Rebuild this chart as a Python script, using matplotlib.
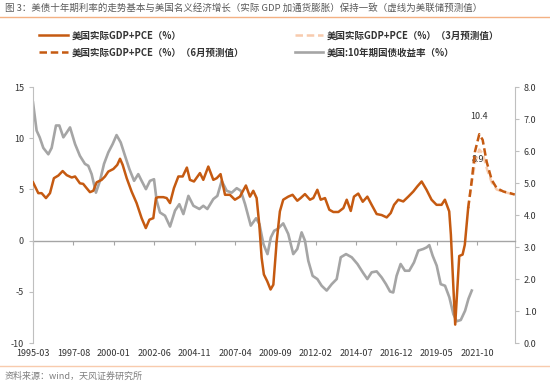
import numpy as np
import matplotlib

matplotlib.use("Agg")
import matplotlib.pyplot as plt
from matplotlib.lines import Line2D

plt.rcParams["font.family"] = ["Noto Sans CJK SC", "DejaVu Sans"]
plt.rcParams["axes.unicode_minus"] = False

# x values are months counted from 1995-03
gdp_month = [0, 3.8, 6.2, 9.3, 12.2, 15, 18.2, 21.3, 24.2, 27.8, 30.2, 33.7, 36, 38.5,
             40.9, 43.3, 45.7, 49.3, 51.7, 54.1, 57.7, 60.5, 62.5, 64.4, 67.3, 70.8,
             74.4, 78, 81, 83.6, 86.4, 88.3, 90, 93.6, 96, 98.4, 101.2, 104.4, 107.5,
             110.5, 112.7, 115.6, 119.9, 122.3, 125.9, 129.5, 131.9, 134.7, 137.9,
             141.4, 145, 148.6, 152.9, 155.8, 158.2, 160.6, 162.5, 164.2, 165.8, 168.2,
             170.6, 172.6, 175, 177.3, 179.7, 183.3, 186.4, 189.8, 192.2, 195.3, 198.9,
             201.3, 204.2, 206.6, 209.7, 212.8, 215.7, 219.3, 222.9, 225.3, 228.2,
             230.5, 233.6, 236.8, 240.1, 243.2, 246.8, 250.4, 254, 256.9, 259.3, 262.3,
             265.9, 269.5, 273.1, 276, 279.1, 282.6, 286.2, 289.8, 293.4, 295.8, 298.9,
             300.1, 301.8, 303.2, 304.9, 306.1, 308.5, 310.1, 312.5]
gdp = [5.7, 4.64, 4.64, 4.16, 4.64, 6.1, 6.36, 6.8, 6.4, 6.17, 6.27, 5.6, 5.55, 5.13,
       4.74, 4.87, 5.7, 5.94, 6.27, 6.75, 7.0, 7.4, 8.0, 7.4, 6.1, 4.8,
       3.67, 2.2, 1.23, 2.05, 2.2, 4.16, 4.25, 4.25, 4.16, 3.67, 5.13, 6.27, 6.27,
       7.14, 5.94, 5.78, 6.6, 5.94, 7.24, 5.94, 6.1, 6.5, 4.48,
       4.48, 4.0, 4.3, 5.39, 4.3, 4.87, 4.16, 1.56, -1.69, -3.3, -3.96,
       -4.77, -4.3, -0.06, 2.86, 4.0, 4.3, 4.48, 3.9, 4.16, 4.55, 4.0,
       4.16, 4.97, 4.0, 4.16, 3.02, 2.8, 2.8, 3.18, 4.0, 2.9,
       4.3, 4.6, 3.8, 4.3, 3.5, 2.6, 2.5, 2.27, 2.7, 3.5, 4.0,
       3.83, 4.3, 4.8, 5.3, 5.78, 4.97, 4.0, 3.5, 3.5, 4.0, 2.86,
       0.58, -4.3, -8.2, -4.3, -1.5, -1.36, -0.4, 3.18]

jun_month = [312.5, 315, 317.4, 320.5, 322.9, 325.8, 329.4, 333, 337.8, 342.6, 346]
jun_fc = [3.18, 5.78, 8.7, 10.4, 9.85, 7.7, 5.94, 5.13, 4.8, 4.64, 4.5]

mar_month = [312.5, 315, 317.4, 320.5, 323, 326, 329.4, 333, 338, 343, 346]
mar_fc = [3.18, 5.6, 7.6, 8.9, 8.5, 7.0, 5.7, 5.0, 4.75, 4.6, 4.3]

yld_month = [0, 2.6, 4.8, 7.4, 11, 13.4, 16.5, 18.9, 21.8, 24.2, 26.6, 30.2, 33.7,
             37.3, 39.7, 42.1, 45.2, 48.1, 51, 54.1, 57.2, 60, 63, 66.1, 69.2, 72.6,
             75.6, 78, 81.1, 84, 86.9, 88.8, 91.2, 94.8, 98.4, 102, 105.1, 108, 111.6,
             115.2, 119.5, 122.3, 125.2, 129.5, 132.4, 135.5, 139.1, 142.7, 146.3,
             149.2, 152.3, 156.4, 160.2, 162.6, 165.5, 168.4, 170.8, 173.2, 175.5,
             179.7, 183.3, 186.9, 189.8, 192.9, 195.3, 197.7, 200.8, 204.2, 207.3,
             210.9, 214.5, 218.1, 221, 224.8, 228.9, 233, 236.8, 240.1, 243.2, 246.8,
             250.4, 253.5, 256.4, 258.7, 261.1, 264, 267.1, 270.2, 273.6, 276.7,
             280.3, 282.7, 284.6, 287, 289.9, 292.8, 295.9, 299, 301.9, 304.3, 307.2,
             310.3, 312.7, 315.1]
yld = [7.52, 6.64, 6.43, 6.1, 5.9, 6.1, 6.8, 6.8, 6.43, 6.58, 6.74, 6.22, 5.85,
       5.6, 5.54, 5.28, 4.7, 5.07, 5.6, 5.96, 6.22, 6.5, 6.27, 5.85, 5.44, 5.07,
       5.28, 5.07, 4.81, 5.07, 5.12, 4.45, 4.08, 3.98, 3.64, 4.14, 4.34, 4.03, 4.6,
       4.29, 4.19, 4.29, 4.19, 4.5, 4.6, 5.07, 4.76, 4.7, 4.84,
       4.76, 4.34, 3.67, 3.9, 3.72, 3.09, 2.78, 3.3, 3.51, 3.56,
       3.74, 3.41, 2.78, 2.94, 3.46, 3.2, 2.57, 2.1, 2.0, 1.79,
       1.64, 1.84, 2.0, 2.68, 2.78, 2.68, 2.47, 2.21, 2.0, 2.21, 2.24,
       2.05, 1.84, 1.61, 1.58, 2.1, 2.47, 2.26, 2.26, 2.52, 2.89,
       2.94, 2.99, 3.06, 2.73, 2.42, 1.84, 1.79, 1.43, 0.9, 0.68, 0.72,
       1.01, 1.38, 1.64]

tick_labels = ["1995-03", "1997-08", "2000-01", "2002-06", "2004-11", "2007-04",
               "2009-09", "2012-02", "2014-07", "2016-12", "2019-05", "2021-10"]

ORANGE = "#C55A11"
PEACH = "#F8CBAD"
GRAY = "#A5A5A5"
TXT = "#333333"

fig = plt.figure(figsize=(5.5, 3.82), dpi=100)
ax = fig.add_axes([0.06, 0.102, 0.876, 0.670])
ax2 = ax.twinx()

l_mar, = ax.plot(mar_month, mar_fc, color=PEACH, lw=1.8, ls=(0, (3, 1.5)), zorder=3)
l_jun, = ax.plot(jun_month, jun_fc, color=ORANGE, lw=1.8, ls=(0, (3, 1.5)), zorder=4)
l_gdp, = ax.plot(gdp_month, gdp, color=ORANGE, lw=1.8, solid_joinstyle="round", zorder=5)
l_yld, = ax2.plot(yld_month, yld, color=GRAY, lw=1.9, solid_joinstyle="round")
ax.set_zorder(ax2.get_zorder() + 1)
ax.patch.set_visible(False)

ax.annotate(f"{max(jun_fc):.1f}", (jun_month[int(np.argmax(jun_fc))], max(jun_fc)),
            xytext=(0, 11), textcoords="offset points", ha="center", fontsize=6.5, color=TXT)
ax.annotate(f"{max(mar_fc):.1f}", (mar_month[int(np.argmax(mar_fc))], max(mar_fc)),
            xytext=(-1, -9), textcoords="offset points", ha="center", fontsize=6.5, color=TXT)

ax.set_xlim(0, 346)
ax.set_ylim(-10, 15)
ax.set_yticks([-10, -5, 0, 5, 10, 15])
ax2.set_ylim(0, 8)
ax2.set_yticks(np.arange(0, 9))
ax2.yaxis.set_major_formatter(matplotlib.ticker.FormatStrFormatter("%.1f"))

ticks = np.arange(len(tick_labels)) * 29
ax.set_xticks(ticks)
ax.set_xticklabels(tick_labels)
ax.tick_params(axis="x", length=0, labelsize=6.5, colors=TXT, pad=4)

# axis line through zero with tick marks
zero_axis = ax.secondary_xaxis(0.4)
zero_axis.set_xticks(ticks)
zero_axis.set_xticklabels([])
zero_axis.tick_params(length=3, color=GRAY, width=0.8)
zero_axis.spines["bottom"].set_color(GRAY)
zero_axis.spines["bottom"].set_linewidth(1.0)

for a in (ax, ax2):
    for s in ("top", "bottom"):
        a.spines[s].set_visible(False)
    a.spines["left"].set_color("#BFBFBF")
    a.spines["right"].set_color("#BFBFBF")
ax.spines["right"].set_visible(False)
ax2.spines["left"].set_visible(False)
ax.tick_params(axis="y", labelsize=6.5, colors=TXT, length=3, color="#BFBFBF")
ax2.tick_params(axis="y", labelsize=6.5, colors=TXT, length=3, color="#BFBFBF")

fig.legend([l_gdp, l_jun, l_mar, l_yld],
           ["美国实际GDP+PCE（%）", "美国实际GDP+PCE（%）（6月预测值）",
            "美国实际GDP+PCE（%）（3月预测值）", "美国:10年期国债收益率（%）"],
           ncol=2, loc="upper left", bbox_to_anchor=(0.056, 0.943), frameon=False,
           prop={"size": 6.8, "weight": "bold"}, handlelength=3.0, handletextpad=0.4,
           columnspacing=5.4, labelspacing=0.75, labelcolor=TXT)

fig.text(0.009, 0.978, "图 3：美债十年期利率的走势基本与美国名义经济增长（实际 GDP 加通货膨胀）保持一致（虚线为美联储预测值）",
         fontsize=6.8, color="#595959", va="center")
fig.add_artist(Line2D([0, 1], [0.955, 0.955], color="#F4B183", lw=1.0))
fig.add_artist(Line2D([0, 1], [0.042, 0.042], color="#F8CBAD", lw=1.0))
fig.text(0.009, 0.016, "资料来源：wind，天风证券研究所", fontsize=6.5, color="#7F7F7F", va="center")

fig.savefig("out.png", dpi=100)
